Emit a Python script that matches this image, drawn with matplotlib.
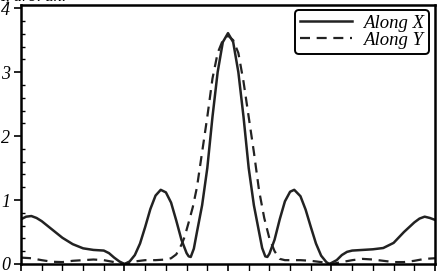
import matplotlib
matplotlib.use("Agg")
import matplotlib.pyplot as plt
from matplotlib.ticker import MultipleLocator, NullFormatter

# Along X (solid)
x_along_x = [-2.0, -1.95, -1.9, -1.85, -1.8, -1.7, -1.6, -1.5, -1.4, -1.3, -1.2, -1.15, -1.1, -1.05, -1.0,
             -0.95, -0.9, -0.85, -0.8, -0.75, -0.7, -0.65, -0.6, -0.55, -0.5, -0.45, -0.4, -0.38, -0.36,
             -0.33, -0.3, -0.25, -0.2, -0.15, -0.1, -0.05, 0.0,
             0.05, 0.1, 0.15, 0.2, 0.25, 0.3, 0.33, 0.36, 0.38, 0.4, 0.45, 0.5, 0.55, 0.6, 0.64,
             0.7, 0.75, 0.8, 0.85, 0.9, 0.95, 0.98, 1.05, 1.1, 1.15, 1.2, 1.3, 1.4, 1.5, 1.6, 1.7,
             1.8, 1.85, 1.9, 1.95, 2.0]
y_along_x = [0.70, 0.74, 0.75, 0.72, 0.67, 0.54, 0.41, 0.31, 0.245, 0.22, 0.21, 0.17, 0.10, 0.04, 0.0,
             0.04, 0.14, 0.32, 0.58, 0.86, 1.07, 1.16, 1.12, 0.96, 0.68, 0.38, 0.17, 0.12, 0.11,
             0.24, 0.50, 0.92, 1.50, 2.30, 3.00, 3.47, 3.61,
             3.47, 3.00, 2.30, 1.50, 0.92, 0.50, 0.25, 0.12, 0.11, 0.16, 0.38, 0.70, 0.98, 1.13, 1.16,
             1.06, 0.85, 0.58, 0.32, 0.13, 0.03, 0.0, 0.06, 0.14, 0.19, 0.21, 0.22, 0.23, 0.25, 0.33, 0.50,
             0.65, 0.71, 0.74, 0.72, 0.69]

# Along Y (dashed)
x_along_y = [-2.0, -1.9, -1.8, -1.7, -1.6, -1.5, -1.4, -1.3, -1.2, -1.1, -1.0, -0.9, -0.8, -0.7, -0.6,
             -0.55, -0.5, -0.45, -0.42, -0.38, -0.34, -0.3, -0.25, -0.2, -0.15, -0.1, -0.05, 0.0,
             0.05, 0.1, 0.15, 0.2, 0.25, 0.3, 0.35, 0.4, 0.45, 0.5, 0.55, 0.6, 0.7, 0.8, 0.9, 1.0,
             1.1, 1.2, 1.3, 1.4, 1.5, 1.6, 1.7, 1.8, 1.9, 2.0]
y_along_y = [0.10, 0.09, 0.06, 0.035, 0.03, 0.05, 0.06, 0.07, 0.06, 0.03, 0.0, 0.04, 0.06, 0.06, 0.07,
             0.09, 0.15, 0.30, 0.42, 0.65, 0.89, 1.20, 1.75, 2.30, 2.90, 3.30, 3.50, 3.57,
             3.50, 3.30, 2.85, 2.30, 1.75, 1.15, 0.72, 0.40, 0.20, 0.08, 0.06, 0.06, 0.06, 0.05, 0.03, 0.0,
             0.03, 0.06, 0.08, 0.07, 0.05, 0.03, 0.03, 0.05, 0.08, 0.09]

labels = ["Along X", "Along Y"]
y_ticks = [0, 1, 2, 3, 4]

serif = ["Liberation Serif", "DejaVu Serif"]

fig = plt.figure(figsize=(4.37, 2.71), dpi=100)
ax = fig.add_axes([21/437, 7/271, 414/437, 259/271])

ax.plot(x_along_x, y_along_x, color="#222222", lw=1.8, label=labels[0])
ax.plot(x_along_y, y_along_y, color="#222222", lw=1.6, linestyle=(0, (4.5, 3)), label=labels[1])

ax.set_xlim(-2, 2)
ax.set_ylim(0, 4.05)

for s in ax.spines.values():
    s.set_linewidth(1.8)

ax.xaxis.set_major_locator(MultipleLocator(1))
ax.xaxis.set_minor_locator(MultipleLocator(0.2))
ax.xaxis.set_major_formatter(NullFormatter())
ax.yaxis.set_major_locator(MultipleLocator(1))
ax.yaxis.set_minor_locator(MultipleLocator(0.2))
ax.set_yticks(y_ticks)
ax.set_yticklabels([str(t) for t in y_ticks], family=serif, style="italic", fontsize=13)

ax.tick_params(axis="x", which="major", direction="out", length=6, width=1.2)
ax.tick_params(axis="x", which="minor", direction="out", length=5, width=1.0)
ax.tick_params(axis="y", which="major", direction="out", length=5, width=1.2, pad=3)
ax.tick_params(axis="y", which="minor", direction="in", length=3, width=1.0)

leg = ax.legend(loc="upper right", bbox_to_anchor=(0.995, 0.995), prop={"family": serif, "style": "italic", "size": 13.5},
                frameon=True, fancybox=True, handlelength=2.8, labelspacing=0.0, borderpad=0.25,
                handletextpad=0.6, borderaxespad=0.2)
leg.get_frame().set_edgecolor("black")
leg.get_frame().set_linewidth(1.4)
leg.get_frame().set_alpha(1)

fig.text(0.0, 1.012, "I, arb. un.", family=serif, style="italic", fontsize=12, va="center", ha="left")

fig.savefig("out.png", dpi=100)
